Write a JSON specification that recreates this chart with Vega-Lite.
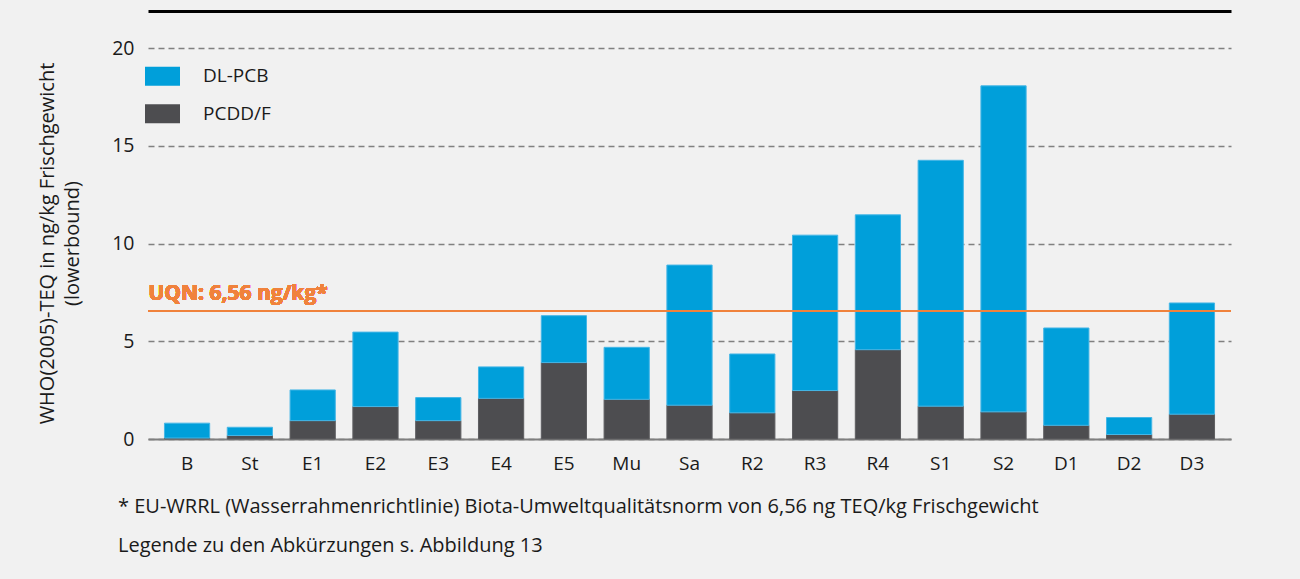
{
  "$schema": "https://vega.github.io/schema/vega-lite/v6.json",
  "width": 1083,
  "height": 428,
  "autosize": {"type": "none"},
  "padding": {"left": 148, "top": 11, "right": 69, "bottom": 140},
  "background": "#f1f1f1",
  "config": {"font": "Open Sans", "view": {"stroke": null}},
  "title": {
    "text": ["* EU-WRRL (Wasserrahmenrichtlinie) Biota-Umweltqualitätsnorm von 6,56 ng TEQ/kg Frischgewicht", "Legende zu den Abkürzungen s. Abbildung 13"],
    "orient": "bottom", "anchor": "start", "frame": "group", "dx": -30, "offset": 24,
    "fontSize": 20, "fontWeight": "normal", "color": "#1a1a1a", "lineHeight": 39
  },
  "data": {"values": [
    {"site": "B", "comp": "PCDD/F", "value": 0.05}, {"site": "B", "comp": "DL-PCB", "value": 0.76},
    {"site": "St", "comp": "PCDD/F", "value": 0.18}, {"site": "St", "comp": "DL-PCB", "value": 0.42},
    {"site": "E1", "comp": "PCDD/F", "value": 0.94}, {"site": "E1", "comp": "DL-PCB", "value": 1.57},
    {"site": "E2", "comp": "PCDD/F", "value": 1.66}, {"site": "E2", "comp": "DL-PCB", "value": 3.81},
    {"site": "E3", "comp": "PCDD/F", "value": 0.94}, {"site": "E3", "comp": "DL-PCB", "value": 1.18},
    {"site": "E4", "comp": "PCDD/F", "value": 2.08}, {"site": "E4", "comp": "DL-PCB", "value": 1.61},
    {"site": "E5", "comp": "PCDD/F", "value": 3.91}, {"site": "E5", "comp": "DL-PCB", "value": 2.40},
    {"site": "Mu", "comp": "PCDD/F", "value": 2.03}, {"site": "Mu", "comp": "DL-PCB", "value": 2.66},
    {"site": "Sa", "comp": "PCDD/F", "value": 1.73}, {"site": "Sa", "comp": "DL-PCB", "value": 7.17},
    {"site": "R2", "comp": "PCDD/F", "value": 1.34}, {"site": "R2", "comp": "DL-PCB", "value": 3.01},
    {"site": "R3", "comp": "PCDD/F", "value": 2.48}, {"site": "R3", "comp": "DL-PCB", "value": 7.95},
    {"site": "R4", "comp": "PCDD/F", "value": 4.57}, {"site": "R4", "comp": "DL-PCB", "value": 6.90},
    {"site": "S1", "comp": "PCDD/F", "value": 1.68}, {"site": "S1", "comp": "DL-PCB", "value": 12.58},
    {"site": "S2", "comp": "PCDD/F", "value": 1.39}, {"site": "S2", "comp": "DL-PCB", "value": 16.68},
    {"site": "D1", "comp": "PCDD/F", "value": 0.70}, {"site": "D1", "comp": "DL-PCB", "value": 4.98},
    {"site": "D2", "comp": "PCDD/F", "value": 0.23}, {"site": "D2", "comp": "DL-PCB", "value": 0.87},
    {"site": "D3", "comp": "PCDD/F", "value": 1.27}, {"site": "D3", "comp": "DL-PCB", "value": 5.69}
  ]},
  "resolve": {"axis": {"x": "independent"}},
  "layer": [
    {
      "mark": {"type": "bar", "strokeWidth": 1},
      "encoding": {
        "x": {
          "field": "site", "type": "nominal", "sort": null,
          "scale": {"paddingInner": 0.28, "paddingOuter": 0.262},
          "axis": {"title": null, "labelAngle": 0, "labelFontSize": 19, "labelPadding": 15, "ticks": false,
                   "domainColor": "#7f7f7f", "domainWidth": 2, "grid": false, "labelColor": "#1a1a1a"}
        },
        "y": {
          "field": "value", "type": "quantitative", "stack": "zero",
          "scale": {"domain": [0, 21.9], "nice": false},
          "axis": {"values": [0, 5, 10, 15, 20], "title": ["WHO(2005)-TEQ in ng/kg Frischgewicht", "(lowerbound)"],
                   "titleFontSize": 20, "titleFontWeight": "normal", "titleColor": "#1a1a1a",
                   "titleX": -95, "titleY": 232, "titleAngle": -90, "titleAlign": "center", "titleBaseline": "alphabetic",
                   "titleLineHeight": 25, "labelFontSize": 19.5, "labelPadding": 14, "labelColor": "#1a1a1a",
                   "ticks": false, "domain": false, "grid": true, "gridDash": [6, 4], "gridColor": "#808080", "gridWidth": 1.5}
        },
        "color": {
          "field": "comp", "type": "nominal",
          "scale": {"domain": ["DL-PCB", "PCDD/F"], "range": ["#009fda", "#4d4d50"]},
          "legend": {"title": null, "orient": "none", "legendX": -3, "legendY": 47.7,
                     "symbolType": "M-1,-0.543L1,-0.543L1,0.543L-1,0.543Z", "symbolSize": 1225,
                     "symbolStrokeWidth": 0, "labelFontSize": 19, "labelOffset": 23, "rowPadding": 9.5,
                     "padding": 0, "labelColor": "#1a1a1a"}
        },
        "stroke": {
          "field": "comp", "type": "nominal",
          "scale": {"domain": ["DL-PCB", "PCDD/F"], "range": ["#45b6e6", "#5e5e61"]},
          "legend": null
        },
        "order": {"field": "comp", "sort": "descending"}
      }
    },
    {
      "mark": {"type": "rule", "color": "#f0823c", "strokeWidth": 1.5},
      "encoding": {"y": {"datum": 6.56}}
    },
    {
      "mark": {"type": "text", "text": "UQN: 6,56 ng/kg*", "fontWeight": "bold", "fontSize": 21, "color": "#f0823c",
               "align": "left", "baseline": "alphabetic", "dy": -11, "dx": -16},
      "encoding": {
        "y": {"datum": 6.56},
        "x": {"datum": "B", "bandPosition": 0,
              "axis": {"orient": "top", "labels": false, "ticks": false, "domain": true, "domainColor": "#000000",
                       "domainWidth": 3, "grid": false, "title": null}}
      }
    }
  ]
}
